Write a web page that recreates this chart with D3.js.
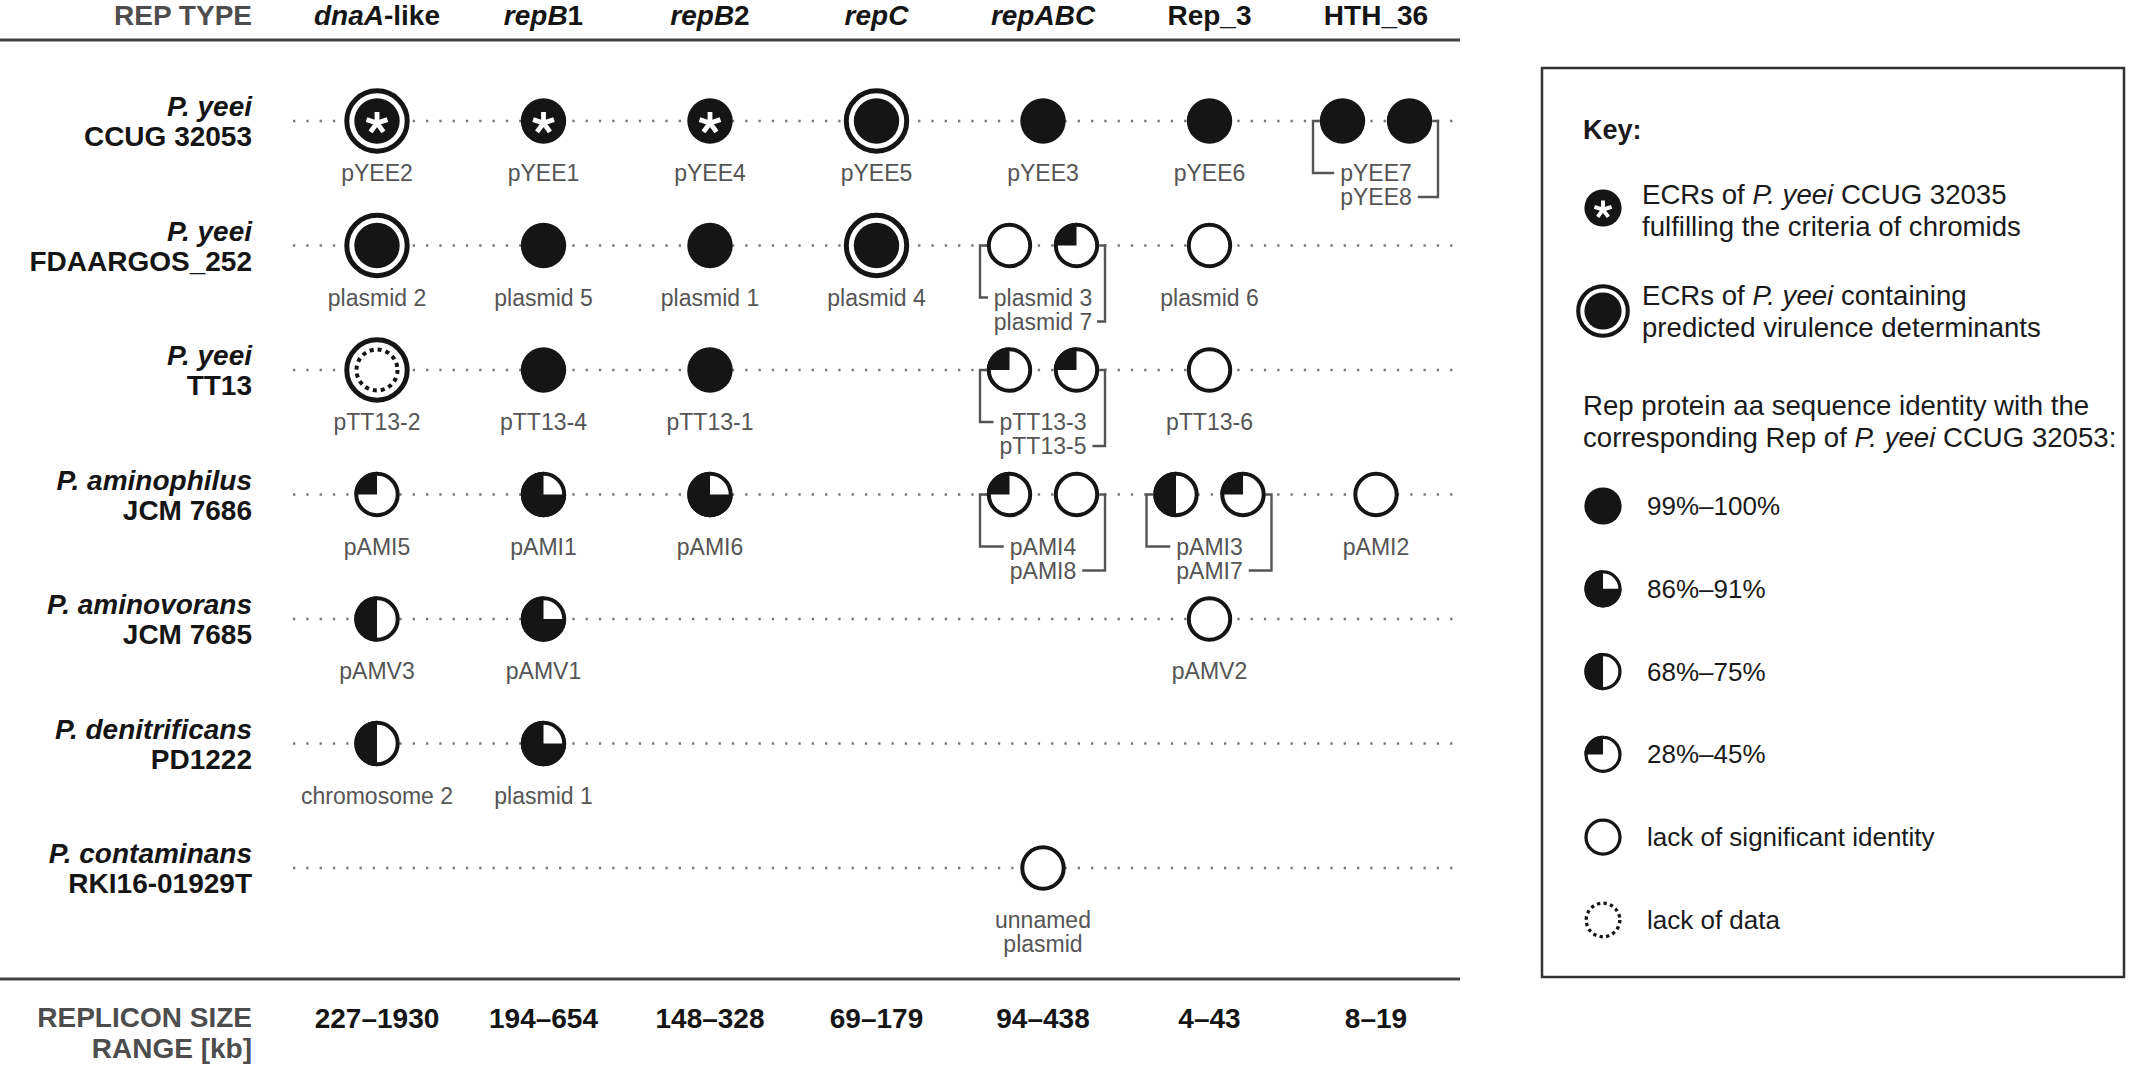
<!DOCTYPE html>
<html><head><meta charset="utf-8">
<script src="https://cdn.jsdelivr.net/npm/d3@7"></script>
<style>
body{margin:0;background:#fff;}
svg{display:block;font-family:"Liberation Sans",Arial,Helvetica,sans-serif;}
</style></head><body>
<svg id="c" width="2129" height="1068"></svg>
<script>
// ---------------- DATA ----------------
const repTypes = ["dnaA-like","repB1","repB2","repC","repABC","Rep_3","HTH_36"];
// header label pieces: [text, italic?]
const repTypeLabels = [
  [["dnaA",1],["-like",0]],
  [["repB",1],["1",0]],
  [["repB",1],["2",0]],
  [["repC",1]],
  [["repABC",1]],
  [["Rep_3",0]],
  [["HTH_36",0]]
];
const strains = ["P. yeei CCUG 32053","P. yeei FDAARGOS_252","P. yeei TT13","P. aminophilus JCM 7686","P. aminovorans JCM 7685","P. denitrificans PD1222","P. contaminans RKI16-01929T"];
const strainGenus = ["P. yeei","P. yeei","P. yeei","P. aminophilus","P. aminovorans","P. denitrificans","P. contaminans"];
const strainIds = ["CCUG 32053","FDAARGOS_252","TT13","JCM 7686","JCM 7685","PD1222","RKI16-01929T"];
const sizeRanges = ["227–1930","194–654","148–328","69–179","94–438","4–43","8–19"];
const identityClasses = ["99%–100%","86%–91%","68%–75%","28%–45%","lack of significant identity","lack of data"];
// [strain, rep type, replicon name, identity class index]
const replicons = [
  ["P. yeei CCUG 32053","dnaA-like","pYEE2",0],
  ["P. yeei CCUG 32053","repB1","pYEE1",0],
  ["P. yeei CCUG 32053","repB2","pYEE4",0],
  ["P. yeei CCUG 32053","repC","pYEE5",0],
  ["P. yeei CCUG 32053","repABC","pYEE3",0],
  ["P. yeei CCUG 32053","Rep_3","pYEE6",0],
  ["P. yeei CCUG 32053","HTH_36","pYEE7",0],
  ["P. yeei CCUG 32053","HTH_36","pYEE8",0],
  ["P. yeei FDAARGOS_252","dnaA-like","plasmid 2",0],
  ["P. yeei FDAARGOS_252","repB1","plasmid 5",0],
  ["P. yeei FDAARGOS_252","repB2","plasmid 1",0],
  ["P. yeei FDAARGOS_252","repC","plasmid 4",0],
  ["P. yeei FDAARGOS_252","repABC","plasmid 3",4],
  ["P. yeei FDAARGOS_252","repABC","plasmid 7",3],
  ["P. yeei FDAARGOS_252","Rep_3","plasmid 6",4],
  ["P. yeei TT13","dnaA-like","pTT13-2",5],
  ["P. yeei TT13","repB1","pTT13-4",0],
  ["P. yeei TT13","repB2","pTT13-1",0],
  ["P. yeei TT13","repABC","pTT13-3",3],
  ["P. yeei TT13","repABC","pTT13-5",3],
  ["P. yeei TT13","Rep_3","pTT13-6",4],
  ["P. aminophilus JCM 7686","dnaA-like","pAMI5",3],
  ["P. aminophilus JCM 7686","repB1","pAMI1",1],
  ["P. aminophilus JCM 7686","repB2","pAMI6",1],
  ["P. aminophilus JCM 7686","repABC","pAMI4",3],
  ["P. aminophilus JCM 7686","repABC","pAMI8",4],
  ["P. aminophilus JCM 7686","Rep_3","pAMI3",2],
  ["P. aminophilus JCM 7686","Rep_3","pAMI7",3],
  ["P. aminophilus JCM 7686","HTH_36","pAMI2",4],
  ["P. aminovorans JCM 7685","dnaA-like","pAMV3",2],
  ["P. aminovorans JCM 7685","repB1","pAMV1",1],
  ["P. aminovorans JCM 7685","Rep_3","pAMV2",4],
  ["P. denitrificans PD1222","dnaA-like","chromosome 2",2],
  ["P. denitrificans PD1222","repB1","plasmid 1",1],
  ["P. contaminans RKI16-01929T","repABC","unnamed\nplasmid",4]
];
const chromids = ["pYEE2","pYEE1","pYEE4"];
const virulenceECRs = ["pYEE2","pYEE5","plasmid 2","plasmid 4","pTT13-2"];

// ---------------- STYLE / LAYOUT ----------------
const INK = "#151515", GREY = "#4d4d4d", LBL = "#555";
const PI = Math.PI;
const fillAngles = d3.scaleOrdinal().domain(identityClasses)
  .range([[0,2*PI],[PI/2,2*PI],[PI,2*PI],[3*PI/2,2*PI],null,null]);

const svg = d3.select("#c");
const x = d3.scalePoint().domain(repTypes).range([377,1376]);
const y = d3.scalePoint().domain(strains).range([121,868]);
const LEFT = 252, LINE_X0 = 0, LINE_X1 = 1460, DOT_X0 = 293;
const PAIR_DX = 33.5;

// header
svg.append("text").attr("x",LEFT).attr("y",25).attr("text-anchor","end")
  .attr("font-size",28).attr("font-weight","bold").attr("fill",GREY).text("REP TYPE");
repTypes.forEach((r,i)=>{
  const t = svg.append("text").attr("x",x(r)).attr("y",25).attr("text-anchor","middle")
    .attr("font-size",28).attr("font-weight","bold").attr("fill",INK);
  repTypeLabels[i].forEach(p=>t.append("tspan").attr("font-style",p[1]?"italic":"normal").text(p[0]));
});
svg.append("line").attr("x1",LINE_X0).attr("x2",LINE_X1).attr("y1",40).attr("y2",40)
  .attr("stroke","#444").attr("stroke-width",3);
svg.append("line").attr("x1",LINE_X0).attr("x2",LINE_X1).attr("y1",979).attr("y2",979)
  .attr("stroke","#444").attr("stroke-width",3);

// strain labels + dotted guide lines
strains.forEach((s,i)=>{
  const yy = y(s);
  svg.append("line").attr("x1",DOT_X0).attr("x2",LINE_X1).attr("y1",yy).attr("y2",yy)
    .attr("stroke","#777").attr("stroke-width",2.3).attr("stroke-dasharray","2.3 11");
  svg.append("text").attr("x",LEFT).attr("y",yy-5).attr("text-anchor","end")
    .attr("font-size",28).attr("font-weight","bold").attr("font-style","italic").attr("fill",INK).text(strainGenus[i]);
  svg.append("text").attr("x",LEFT).attr("y",yy+25).attr("text-anchor","end")
    .attr("font-size",28).attr("font-weight","bold").attr("fill",INK).text(strainIds[i]);
});

// bottom: size ranges
svg.append("text").attr("x",LEFT).attr("y",1027).attr("text-anchor","end")
  .attr("font-size",28).attr("font-weight","bold").attr("fill",GREY).text("REPLICON SIZE");
svg.append("text").attr("x",LEFT).attr("y",1058).attr("text-anchor","end")
  .attr("font-size",28).attr("font-weight","bold").attr("fill",GREY).text("RANGE [kb]");
repTypes.forEach((r,i)=>{
  svg.append("text").attr("x",x(r)).attr("y",1028).attr("text-anchor","middle")
    .attr("font-size",28).attr("font-weight","bold").attr("fill",INK).text(sizeRanges[i]);
});

// symbol drawer
function asteriskPath(L){
  let d="";
  for(let k=0;k<5;k++){
    const a = k*72*PI/180;
    d += `M0,0L${(L*Math.sin(a)).toFixed(2)},${(-L*Math.cos(a)).toFixed(2)}`;
  }
  return d;
}
function drawSymbol(g, cls, chromid, vir, k){
  const R = 22.7*k;
  if(vir){
    g.append("circle").attr("r",30.2*k).attr("fill","#fff").attr("stroke",INK).attr("stroke-width",5*k);
  }
  const ang = fillAngles(cls);
  if(cls===identityClasses[0]){
    g.append("circle").attr("r",R).attr("fill",INK);
  } else if(cls===identityClasses[5]){
    const rr = 20.5*k, n = 16, per = 2*PI*rr/n;
    g.append("circle").attr("r",rr).attr("fill","#fff").attr("stroke",INK)
      .attr("stroke-width",4*k).attr("stroke-dasharray",`${per*0.5} ${per*0.5}`);
  } else {
    g.append("circle").attr("r",R-2*k).attr("fill","#fff").attr("stroke",INK).attr("stroke-width",4*k);
    if(ang){
      g.append("path").attr("d",d3.arc()({innerRadius:0,outerRadius:R,startAngle:ang[0],endAngle:ang[1]}))
        .attr("fill",INK);
    }
  }
  if(chromid){
    g.append("path").attr("d",asteriskPath(11*k)).attr("transform",`translate(0,${2*k})`)
      .attr("stroke","#fff").attr("stroke-width",4.8*k).attr("fill","none");
  }
}

// replicons
const groups = d3.groups(replicons, d=>d[0]+"|"+d[1]);
groups.forEach(([key, items])=>{
  const cx = x(items[0][1]), cy = y(items[0][0]);
  const n = items.length;
  items.forEach((d,j)=>{
    const px = n===2 ? cx + (j===0?-PAIR_DX:PAIR_DX) : cx;
    const g = svg.append("g").attr("transform",`translate(${px},${cy})`);
    drawSymbol(g, identityClasses[d[3]], chromids.includes(d[2]), virulenceECRs.includes(d[2]), 1);
  });
  // labels
  const lines = n===2 ? [items[0][2], items[1][2]] : items[0][2].split("\n");
  const tnodes = lines.map((t,j)=> svg.append("text").attr("x",cx).attr("y",cy+60+24*j)
    .attr("text-anchor","middle").attr("font-size",23).attr("fill",LBL).text(t));
  if(n===2){
    const w1 = tnodes[0].node().getComputedTextLength();
    const w2 = tnodes[1].node().getComputedTextLength();
    const bl = cx-63, br = cx+62;
    const y1 = cy+60-8, y2 = cy+84-8;
    const leftEdge = cx-PAIR_DX-22.7, rightEdge = cx+PAIR_DX+22.7;
    svg.append("path").attr("d",`M${leftEdge},${cy}H${bl}V${y1}H${Math.max(cx-w1/2-6,bl+8)}`)
      .attr("fill","none").attr("stroke",LBL).attr("stroke-width",2.4);
    svg.append("path").attr("d",`M${rightEdge},${cy}H${br}V${y2}H${Math.min(cx+w2/2+6,br-8)}`)
      .attr("fill","none").attr("stroke",LBL).attr("stroke-width",2.4);
  }
});

// ---------------- LEGEND ----------------
const LG = {x:1542, y:68, w:582, h:909};
svg.append("rect").attr("x",LG.x).attr("y",LG.y).attr("width",LG.w).attr("height",LG.h)
  .attr("fill","none").attr("stroke","#333").attr("stroke-width",2.5);
const lg = svg.append("g").attr("font-size",27.6).attr("fill","#1a1a1a");
lg.append("text").attr("x",1583).attr("y",139).attr("font-weight","bold").attr("font-size",27).text("Key:");
function richText(xx, yy, parts, fs){
  const t = lg.append("text").attr("x",xx).attr("y",yy);
  if(fs) t.attr("font-size",fs);
  parts.forEach(p=>t.append("tspan").attr("font-style",p[1]?"italic":"normal").text(p[0]));
}
const SYMX = 1603, K = 0.82;
drawSymbol(svg.append("g").attr("transform",`translate(${SYMX},208)`), identityClasses[0], true, false, K);
richText(1642,204,[["ECRs of ",0],["P. yeei",1],[" CCUG 32035",0]]);
richText(1642,236,[["fulfilling the criteria of chromids",0]]);
drawSymbol(svg.append("g").attr("transform",`translate(${SYMX},311)`), identityClasses[0], false, true, K);
richText(1642,305,[["ECRs of ",0],["P. yeei",1],[" containing",0]]);
richText(1642,337,[["predicted virulence determinants",0]]);
richText(1583,415,[["Rep protein aa sequence identity with the",0]]);
richText(1583,447,[["corresponding Rep of ",0],["P. yeei",1],[" CCUG 32053:",0]]);
const legendY = d3.scalePoint().domain(identityClasses).range([506,920]);
identityClasses.forEach(c=>{
  drawSymbol(svg.append("g").attr("transform",`translate(${SYMX},${legendY(c)})`), c, false, false, K);
  richText(1647, legendY(c)+9, [[c,0]], 26);
});
</script>
</body></html>
